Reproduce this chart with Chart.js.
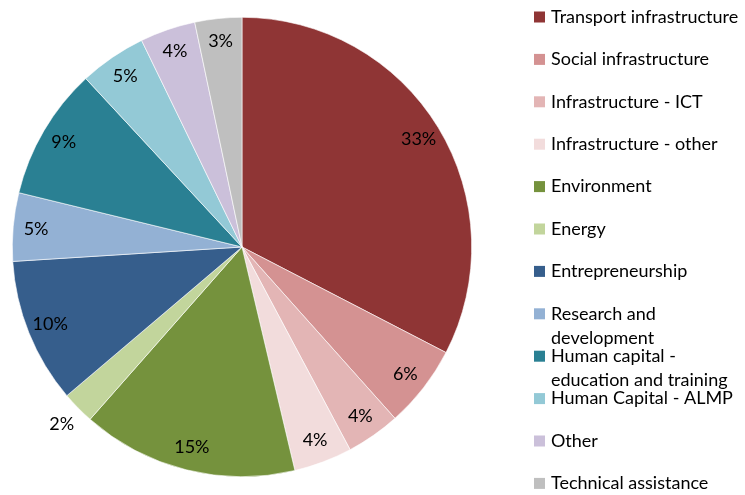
<!DOCTYPE html>
<html>
<head>
<meta charset="utf-8">
<script src="https://cdn.jsdelivr.net/npm/chart.js@4"></script>
<style>
  html, body { margin: 0; padding: 0; background: #fff; }
  #wrap { width: 745px; height: 495px; position: relative; }
</style>
</head>
<body>
<div id="wrap"><canvas id="grafica"></canvas></div>
<script>

// DATOS

const categorias = [
    'Transport infrastructure',
    'Social infrastructure',
    'Infrastructure - ICT',
    'Infrastructure - other',
    'Environment',
    'Energy',
    'Entrepreneurship',
    ['Research and', 'development'],
    ['Human capital -', 'education and training'],
    'Human Capital - ALMP',
    'Other',
    'Technical assistance'
];

const valores = [32.6, 5.8, 3.8, 4.1, 15.2, 2.3, 10.2, 4.8, 9.3, 4.7, 3.9, 3.3];

const colores = [
    '#8f3535', '#d49292', '#e3b5b5', '#f2dcdc',
    '#75923d', '#c2d59c', '#365e8c', '#93b1d4',
    '#2a8093', '#93c9d6', '#cbc0da', '#bfbfbf'
];

const fuente = 'Lato, "Open Sans", sans-serif';


// ETIQUETAS DE PORCENTAJE

const etiquetas = {
    id: 'etiquetas',
    afterDatasetsDraw(chart){
        const ctx = chart.ctx;
        const meta = chart.getDatasetMeta(0);
        const total = valores.reduce((a, b) => a + b, 0);
        ctx.save();
        ctx.font = '18px ' + fuente;
        ctx.fillStyle = '#000';
        ctx.textAlign = 'center';
        ctx.textBaseline = 'middle';
        meta.data.forEach((arc, i) => {
            const p = arc.getProps(['x', 'y', 'startAngle', 'endAngle', 'outerRadius']);
            const ang = (p.startAngle + p.endAngle) / 2;
            const pct = Math.round(valores[i] / total * 100);
            const r = pct < 3 ? p.outerRadius * 1.1 : p.outerRadius * 0.9;
            ctx.fillText(pct + '%', p.x + Math.cos(ang) * r, p.y + Math.sin(ang) * r);
        });
        ctx.restore();
    }
};


// LEYENDA

const leyenda = {
    id: 'leyenda',
    afterDraw(chart){
        const ctx = chart.ctx;
        ctx.save();
        ctx.font = '18px ' + fuente;
        ctx.fillStyle = '#000';
        ctx.textBaseline = 'middle';
        categorias.forEach((cat, i) => {
            const y = 17 + 42.4 * i;
            ctx.fillStyle = colores[i];
            ctx.fillRect(534, y - 5.5, 11, 11);
            ctx.fillStyle = '#000';
            const lineas = Array.isArray(cat) ? cat : [cat];
            lineas.forEach((l, k) => ctx.fillText(l, 551, y + k * 24));
        });
        ctx.restore();
    }
};


// GRAFICA

const ctx = document.getElementById('grafica');

new Chart(ctx, {

    type: 'pie',

    data: {
        labels: categorias,
        datasets: [{
            data: valores,
            backgroundColor: colores,
            borderColor: '#ffffff',
            borderWidth: 0.6
        }]
    },

    options: {
        responsive: true,
        maintainAspectRatio: false,
        animation: false,
        layout: {
            padding: { left: 12, right: 273, top: 17, bottom: 18 }
        },
        plugins: {
            legend: { display: false },
            tooltip: { enabled: false }
        }
    },

    plugins: [etiquetas, leyenda]

});

</script>
</body>
</html>
